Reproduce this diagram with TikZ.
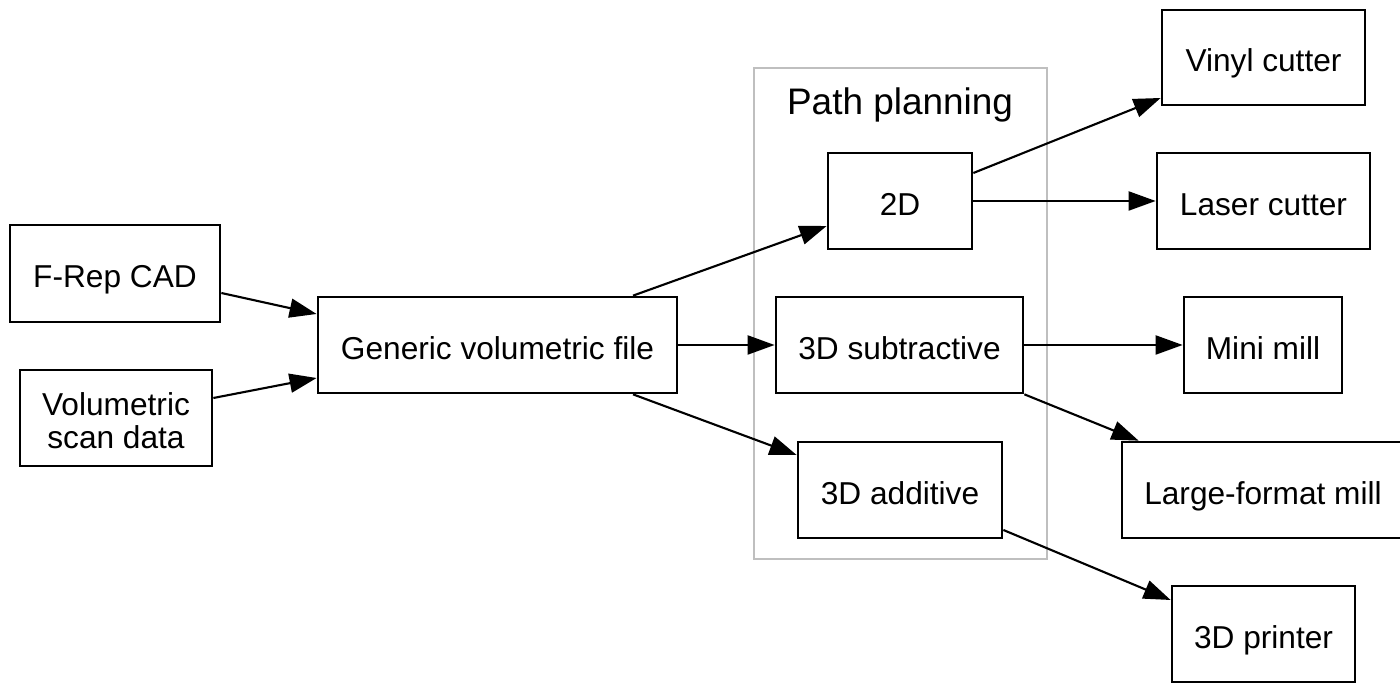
\documentclass[tikz,border=0pt]{standalone}
\usepackage{fontspec}
\setmainfont{Liberation Sans}
\usetikzlibrary{arrows.meta,calc}
\tikzset{
  box/.style={draw=black, line width=0.75pt, fill=white, inner sep=0pt, align=center,
    font=\fontsize{9}{9.4}\selectfont},
  one/.style={text height=9pt, text depth=1pt},
  edge/.style={draw=black, line width=0.6pt, -{Triangle[length=0.27cm,width=0.19cm]}},
  cluster/.style={draw=black!25, line width=0.55pt},
}
\begin{document}
\begin{tikzpicture}[x=0.01cm,y=-0.01cm]
\useasboundingbox (0,0) rectangle (1400,683);
% cluster
\draw[cluster] (754,68) rectangle (1047,559);
\node[font=\fontsize{10.5}{12}\selectfont] (pp) at (900,105) {Path planning};
% nodes
\node[box, one, minimum width=2.10cm, minimum height=0.97cm] (frep) at (115,273.5) {F-Rep CAD};
\node[box, text height=0.61cm, text depth=0pt, minimum width=1.92cm, minimum height=0.96cm] (scan) at (116,418) {Volumetric\\scan data};
\node[box, one, minimum width=3.59cm, minimum height=0.96cm] (gen) at (497.5,345) {Generic volumetric file};
\node[box, one, minimum width=1.44cm, minimum height=0.96cm] (d2) at (900,201) {2D};
\node[box, one, minimum width=2.47cm, minimum height=0.96cm] (sub) at (899.5,345) {3D subtractive};
\node[box, one, minimum width=2.04cm, minimum height=0.96cm] (add) at (900,490) {3D additive};
\node[box, one, minimum width=2.03cm, minimum height=0.95cm] (vinyl) at (1263.5,57.5) {Vinyl cutter};
\node[box, one, minimum width=2.13cm, minimum height=0.96cm] (laser) at (1263.5,201) {Laser cutter};
\node[box, one, minimum width=1.58cm, minimum height=0.96cm] (mini) at (1263,345) {Mini mill};
\node[box, one, minimum width=2.82cm, minimum height=0.96cm] (large) at (1263,490) {Large-format mill};
\node[box, one, minimum width=1.83cm, minimum height=0.96cm] (printer) at (1263.5,634) {3D printer};
% edges
\draw[edge] ($(frep.east)+(0,19.5)$) -- ($(gen.west)+(0,-31)$);
\draw[edge] ($(scan.east)+(0,-20)$) -- ($(gen.west)+(0,33)$);
\draw[edge] ($(gen.north)+(135.5,0)$) -- ($(d2.west)+(0,25)$);
\draw[edge] (gen.east) -- (sub.west);
\draw[edge] ($(gen.south)+(135.5,0)$) -- ($(add.west)+(0,-35)$);
\draw[edge] ($(d2.east)+(0,-28)$) -- ($(vinyl.west)+(0,40.5)$);
\draw[edge] (d2.east) -- (laser.west);
\draw[edge] (sub.east) -- (mini.west);
\draw[edge] (sub.south east) -- ($(large.north west)+(18,0)$);
\draw[edge] ($(add.east)+(0,40)$) -- ($(printer.west)+(0,-34)$);
\end{tikzpicture}
\end{document}
